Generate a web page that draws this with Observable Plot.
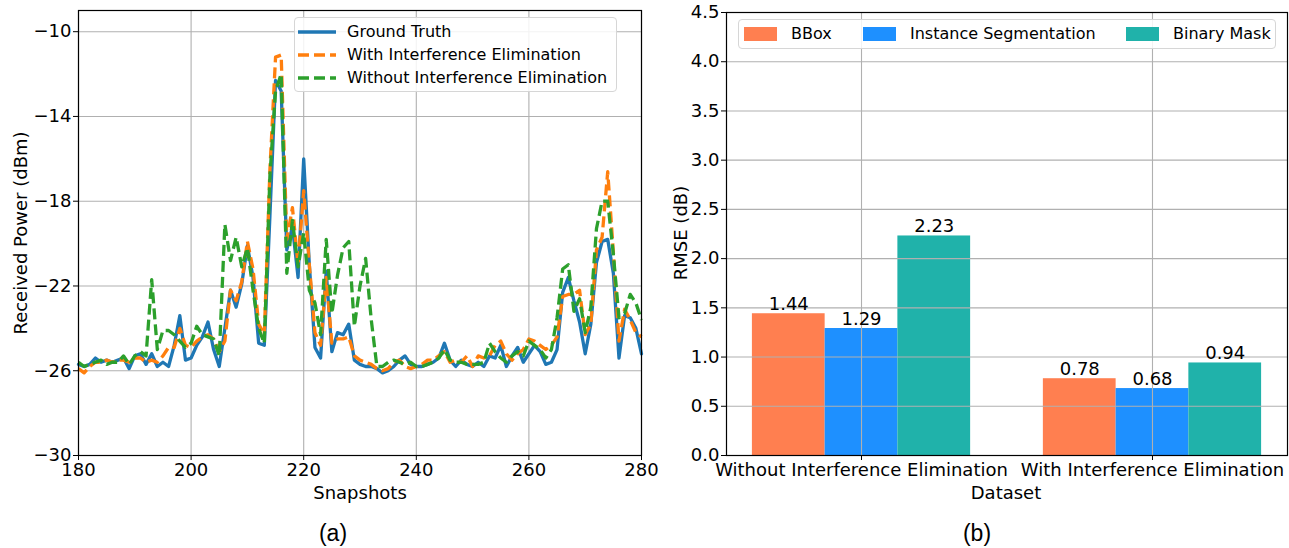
<!DOCTYPE html>
<html><head><meta charset="utf-8">
<script src="https://cdn.jsdelivr.net/npm/d3@7"></script>
<script src="https://cdn.jsdelivr.net/npm/@observablehq/plot@0.6"></script>
<style>
body{margin:0;background:#fff;}
#wrap{position:relative;width:1289px;height:548px;font-family:"DejaVu Sans",sans-serif;color:#000;overflow:hidden;}
#wrap > svg{position:absolute;top:0;}
#wrap svg text{font-family:"DejaVu Sans",sans-serif;}
.lbl{position:absolute;white-space:nowrap;font-size:18px;transform:translate(-50%,-50%);}
.rot{transform:translate(-50%,-50%) rotate(-90deg);}
.cap{position:absolute;white-space:nowrap;font-family:"Liberation Sans",Arial,sans-serif;font-size:23px;transform:translate(-50%,-50%);}
.legend{position:absolute;border:1px solid #d6d6d6;border-radius:4px;background:rgba(255,255,255,0.85);font-size:16px;}
.legend .item{position:absolute;white-space:nowrap;}
</style></head><body><div id="wrap"></div>
<script>
// ---------- Data: panel (a) ----------
const snapshots = d3.range(180, 281);
const groundTruth = [
 -25.7,-25.8,-25.7,-25.4,-25.6,-25.5,-25.6,-25.5,-25.4,-25.9,
 -25.3,-25.2,-25.7,-25.2,-25.8,-25.6,-25.8,-24.8,-23.4,-25.5,
 -25.4,-24.8,-24.4,-23.7,-25.0,-25.8,-24.0,-22.2,-23.0,-21.9,
 -20.1,-21.6,-24.7,-24.8,-18.7,-12.3,-12.8,-20.3,-19.2,-21.6,
 -16.0,-21.0,-24.9,-25.4,-21.3,-25.1,-24.2,-24.3,-23.8,-25.5,
 -25.7,-25.8,-25.8,-25.9,-26.1,-26.0,-25.8,-25.5,-25.3,-25.7,
 -25.8,-25.8,-25.7,-25.6,-25.4,-24.7,-25.5,-25.8,-25.5,-25.7,
 -25.8,-25.6,-25.8,-25.3,-25.4,-24.8,-25.8,-25.3,-24.9,-25.6,
 -25.2,-24.8,-25.1,-25.7,-25.6,-25.0,-22.3,-21.6,-22.7,-23.7,
 -25.2,-23.8,-20.9,-19.9,-19.8,-21.4,-25.4,-23.4,-23.5,-24.0,
 -25.2
];
const withElimination = [
 -25.9,-26.1,-25.8,-25.6,-25.6,-25.5,-25.6,-25.5,-25.5,-25.6,
 -25.4,-25.4,-25.6,-25.5,-25.6,-25.3,-24.9,-24.9,-24.0,-24.8,
 -24.9,-24.6,-24.4,-24.3,-24.5,-25.1,-24.6,-22.2,-22.7,-21.8,
 -19.9,-21.2,-23.8,-24.3,-16.5,-11.2,-11.1,-19.8,-18.3,-21.0,
 -17.5,-21.0,-24.2,-24.8,-21.6,-24.7,-24.5,-24.5,-24.4,-25.3,
 -25.5,-25.6,-25.7,-25.9,-26.0,-25.9,-25.6,-25.5,-25.8,-25.9,
 -25.8,-25.7,-25.5,-25.5,-25.3,-25.1,-25.6,-25.5,-25.6,-25.3,
 -25.8,-25.3,-25.4,-25.3,-24.8,-24.6,-25.2,-25.5,-25.2,-25.0,
 -24.5,-24.6,-24.8,-25.0,-24.8,-24.4,-22.5,-22.4,-22.4,-22.2,
 -24.3,-23.8,-20.3,-19.7,-16.6,-20.4,-24.6,-23.1,-23.6,-24.2,
 -24.4
];
const withoutElimination = [
 -25.6,-25.8,-25.7,-25.6,-25.5,-25.7,-25.6,-25.6,-25.3,-25.7,
 -25.3,-25.1,-25.3,-21.7,-25.0,-24.1,-24.1,-24.3,-24.6,-24.9,
 -24.7,-23.9,-24.3,-24.4,-24.5,-25.3,-19.1,-20.8,-19.7,-21.1,
 -20.2,-22.2,-24.0,-24.7,-16.8,-12.8,-12.0,-21.4,-18.9,-21.1,
 -19.5,-22.2,-22.8,-24.3,-19.8,-23.3,-21.5,-20.2,-19.9,-23.9,
 -22.0,-20.7,-23.6,-25.8,-25.8,-25.6,-25.5,-25.6,-25.7,-25.6,
 -25.8,-25.8,-25.7,-25.6,-25.4,-25.0,-25.5,-25.6,-25.6,-25.7,
 -25.7,-25.7,-25.6,-24.7,-25.1,-25.4,-25.6,-25.3,-25.1,-25.3,
 -24.6,-24.8,-25.0,-25.4,-25.0,-23.5,-21.2,-21.0,-23.2,-22.6,
 -24.2,-23.0,-19.3,-18.0,-18.0,-20.5,-23.5,-23.3,-22.4,-22.8,
 -23.6
];
const lineSeries = ["Ground Truth", "With Interference Elimination", "Without Interference Elimination"];
const lineColors = ["#1f77b4", "#ff7f0e", "#2ca02c"];
const snapshotTicks = [180, 200, 220, 240, 260, 280];
const powerTicks = [-30, -26, -22, -18, -14, -10];

// ---------- Data: panel (b) ----------
const datasets = ["Without Interference Elimination", "With Interference Elimination"];
const methods = ["BBox", "Instance Segmentation", "Binary Mask"];
const bboxRmse = [1.44, 0.78];
const instanceRmse = [1.29, 0.68];
const binaryRmse = [2.23, 0.94];
const methodColors = ["#ff7f50", "#1e90ff", "#20b2aa"];
const rmseTicks = [0, 0.5, 1.0, 1.5, 2.0, 2.5, 3.0, 3.5, 4.0, 4.5];

// ---------- Build tables ----------
const seriesValues = [groundTruth, withElimination, withoutElimination];
const lineData = [];
seriesValues.forEach((vals, i) => vals.forEach((v, j) => lineData.push({series: lineSeries[i], snapshot: snapshots[j], power: v})));

const barWidth = 0.25;
const barData = [];
[bboxRmse, instanceRmse, binaryRmse].forEach((vals, m) => vals.forEach((v, g) => barData.push({g, m, method: methods[m], rmse: v})));

const wrap = document.getElementById("wrap");
const gridStyle = {stroke: "#b0b0b0", strokeOpacity: 1, strokeWidth: 1.1};
const dash = "11,5";
const FS = 18;

// ---------- Panel (a) ----------
const left = Plot.plot({
  width: 660, height: 510,
  marginLeft: 78, marginRight: 19, marginTop: 10, marginBottom: 55,
  style: {fontFamily: "DejaVu Sans", fontSize: FS + "px", background: "transparent", color: "black", overflow: "visible"},
  x: {domain: [180, 280], label: null},
  y: {domain: [-30, -9], label: null},
  marks: [
    Plot.gridX(snapshotTicks, gridStyle),
    Plot.gridY(powerTicks, gridStyle),
    Plot.line(lineData.filter(d => d.series === lineSeries[0]), {x: "snapshot", y: "power", stroke: lineColors[0], strokeWidth: 3.3, strokeLinejoin: "round"}),
    Plot.line(lineData.filter(d => d.series === lineSeries[1]), {x: "snapshot", y: "power", stroke: lineColors[1], strokeWidth: 3.3, strokeDasharray: dash, strokeLinecap: "butt", strokeLinejoin: "round"}),
    Plot.line(lineData.filter(d => d.series === lineSeries[2]), {x: "snapshot", y: "power", stroke: lineColors[2], strokeWidth: 3.3, strokeDasharray: dash, strokeLinecap: "butt", strokeLinejoin: "round"}),
    Plot.frame({stroke: "black", strokeWidth: 1.2}),
    Plot.axisX(snapshotTicks, {tickSize: 5, tickPadding: 3, fontSize: FS, label: null}),
    Plot.axisY(powerTicks, {tickSize: 5, tickPadding: 2, fontSize: FS, label: null})
  ]
});
left.style.left = "0px";
wrap.appendChild(left);

// ---------- Panel (b) ----------
const right = Plot.plot({
  width: 629, height: 510,
  marginLeft: 66, marginRight: 2, marginTop: 12, marginBottom: 55,
  style: {fontFamily: "DejaVu Sans", fontSize: FS + "px", background: "transparent", color: "black", overflow: "visible"},
  x: {domain: [-0.464, 1.464], label: null},
  y: {domain: [0, 4.5], label: null},
  color: {domain: methods, range: methodColors},
  marks: [
    Plot.rect(barData, {
      x1: d => d.g + (d.m - 1.5) * barWidth,
      x2: d => d.g + (d.m - 0.5) * barWidth,
      y1: 0, y2: "rmse", fill: "method"
    }),
    Plot.gridX([0, 1], gridStyle),
    Plot.gridY(rmseTicks, gridStyle),
    Plot.text(barData, {
      x: d => d.g + (d.m - 1) * barWidth, y: "rmse",
      text: d => d.rmse.toFixed(2), lineAnchor: "bottom", dy: -4, fontSize: FS, fill: "black"
    }),
    Plot.frame({stroke: "black", strokeWidth: 1.2}),
    Plot.axisX([0, 1], {tickFormat: i => datasets[i], tickSize: 5, tickPadding: 3, fontSize: FS, label: null}),
    Plot.axisY(rmseTicks, {tickFormat: d => d.toFixed(1), tickSize: 5, tickPadding: 2, fontSize: FS, label: null})
  ]
});
right.style.left = "660px";
wrap.appendChild(right);

// ---------- Text overlays ----------
function addText(cls, txt, x, y) {
  const el = document.createElement("div");
  el.className = cls;
  el.textContent = txt;
  el.style.left = x + "px";
  el.style.top = y + "px";
  wrap.appendChild(el);
  return el;
}
addText("lbl rot", "Received Power (dBm)", 20, 233);
addText("lbl", "Snapshots", 360, 492);
addText("lbl rot", "RMSE (dB)", 680, 233);
addText("lbl", "Dataset", 1006, 492);
addText("cap", "(a)", 333, 533);
addText("cap", "(b)", 977, 533);

// Legend (a)
const legA = document.createElement("div");
legA.className = "legend";
Object.assign(legA.style, {left: "294px", top: "17px", width: "321px", height: "73px"});
const rowsA = [14, 37, 60];
lineSeries.forEach((name, i) => {
  const svgNS = "http://www.w3.org/2000/svg";
  const s = document.createElementNS(svgNS, "svg");
  s.setAttribute("width", 38); s.setAttribute("height", 8);
  Object.assign(s.style, {position: "absolute", left: "3px", top: (rowsA[i] - 4) + "px"});
  const l = document.createElementNS(svgNS, "line");
  l.setAttribute("x1", 0); l.setAttribute("x2", 38); l.setAttribute("y1", 4); l.setAttribute("y2", 4);
  l.setAttribute("stroke", lineColors[i]); l.setAttribute("stroke-width", 3.3);
  if (i > 0) l.setAttribute("stroke-dasharray", dash);
  s.appendChild(l);
  legA.appendChild(s);
  const t = document.createElement("div");
  t.className = "item"; t.textContent = name;
  Object.assign(t.style, {left: "52px", top: (rowsA[i] - 10) + "px", lineHeight: "20px"});
  legA.appendChild(t);
});
wrap.appendChild(legA);

// Legend (b)
const legB = document.createElement("div");
legB.className = "legend";
Object.assign(legB.style, {left: "738px", top: "19px", width: "536px", height: "28px"});
const patchX = [5, 124, 387];
methods.forEach((name, i) => {
  const p = document.createElement("div");
  Object.assign(p.style, {position: "absolute", left: patchX[i] + "px", top: "7px", width: "33px", height: "14px", background: methodColors[i]});
  legB.appendChild(p);
  const t = document.createElement("div");
  t.className = "item"; t.textContent = name;
  Object.assign(t.style, {left: (patchX[i] + 47) + "px", top: "4px", lineHeight: "20px"});
  legB.appendChild(t);
});
wrap.appendChild(legB);
</script></body></html>
